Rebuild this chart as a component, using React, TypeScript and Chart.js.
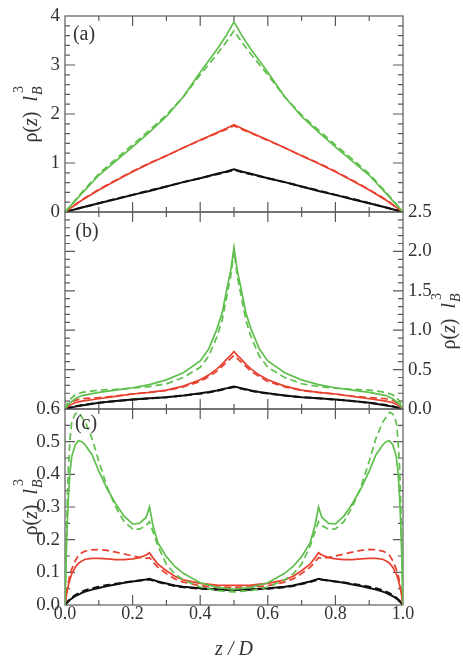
import React, { useEffect, useRef } from "react";
import { Chart, registerables } from "chart.js";

Chart.register(...registerables);

const W = 463;
const H = 657;
const SERIF = '"Liberation Serif", "DejaVu Serif", serif';
const TEXT = "#333333";
const FRAME = "#5a5a5a";
const GREEN = "#5fbf4c";
const RED = "#e8402e";
const BLACK = "#111111";

// ---------- panel (a) ----------
const Z_A = [0, 0.05, 0.1, 0.15, 0.2, 0.25, 0.3, 0.35, 0.4, 0.45, 0.475, 0.5, 0.525, 0.55, 0.6, 0.65, 0.7, 0.75, 0.8, 0.85, 0.9, 0.95, 1];
const A_GREEN = [0, 0.38, 0.75, 1.04, 1.33, 1.63, 1.95, 2.35, 2.85, 3.32, 3.58, 3.88, 3.58, 3.32, 2.85, 2.35, 1.95, 1.63, 1.33, 1.04, 0.75, 0.38, 0];
const A_GREEN_D = [0, 0.4, 0.78, 1.08, 1.37, 1.67, 1.98, 2.35, 2.8, 3.22, 3.45, 3.7, 3.45, 3.22, 2.8, 2.35, 1.98, 1.67, 1.37, 1.08, 0.78, 0.4, 0];
const A_RED = [0, 0.24, 0.45, 0.64, 0.82, 0.99, 1.15, 1.31, 1.47, 1.62, 1.7, 1.78, 1.7, 1.62, 1.47, 1.31, 1.15, 0.99, 0.82, 0.64, 0.45, 0.24, 0];
const A_RED_D = [0, 0.25, 0.46, 0.65, 0.83, 1.0, 1.15, 1.31, 1.46, 1.61, 1.68, 1.76, 1.68, 1.61, 1.46, 1.31, 1.15, 1.0, 0.83, 0.65, 0.46, 0.25, 0];
const A_BLACK = [0, 0.09, 0.18, 0.26, 0.35, 0.43, 0.52, 0.61, 0.69, 0.78, 0.82, 0.87, 0.82, 0.78, 0.69, 0.61, 0.52, 0.43, 0.35, 0.26, 0.18, 0.09, 0];
const A_BLACK_D = [0, 0.09, 0.18, 0.27, 0.35, 0.44, 0.52, 0.61, 0.69, 0.77, 0.81, 0.86, 0.81, 0.77, 0.69, 0.61, 0.52, 0.44, 0.35, 0.27, 0.18, 0.09, 0];

// ---------- panel (b) ----------
const Z_B = [0, 0.01, 0.03, 0.05, 0.1, 0.15, 0.2, 0.25, 0.3, 0.35, 0.4, 0.425, 0.45, 0.465, 0.48, 0.49, 0.5, 0.51, 0.52, 0.535, 0.55, 0.575, 0.6, 0.65, 0.7, 0.75, 0.8, 0.85, 0.9, 0.95, 0.97, 0.99, 1];
const B_GREEN = [0, 0.06, 0.13, 0.17, 0.21, 0.24, 0.27, 0.31, 0.37, 0.46, 0.61, 0.76, 1.02, 1.22, 1.55, 1.75, 2.05, 1.75, 1.55, 1.22, 1.02, 0.76, 0.61, 0.46, 0.37, 0.31, 0.27, 0.24, 0.21, 0.17, 0.13, 0.06, 0];
const B_GREEN_D = [0, 0.1, 0.18, 0.21, 0.24, 0.25, 0.265, 0.285, 0.32, 0.4, 0.53, 0.67, 0.92, 1.13, 1.46, 1.68, 2.0, 1.68, 1.46, 1.13, 0.92, 0.67, 0.53, 0.4, 0.32, 0.285, 0.265, 0.25, 0.24, 0.21, 0.18, 0.1, 0];
const B_RED = [0, 0.04, 0.08, 0.1, 0.13, 0.16, 0.19, 0.21, 0.24, 0.29, 0.37, 0.43, 0.51, 0.57, 0.64, 0.68, 0.73, 0.68, 0.64, 0.57, 0.51, 0.43, 0.37, 0.29, 0.24, 0.21, 0.19, 0.16, 0.13, 0.1, 0.08, 0.04, 0];
const B_RED_D = [0, 0.06, 0.11, 0.13, 0.145, 0.165, 0.19, 0.21, 0.235, 0.28, 0.35, 0.41, 0.48, 0.54, 0.6, 0.64, 0.68, 0.64, 0.6, 0.54, 0.48, 0.41, 0.35, 0.28, 0.235, 0.21, 0.19, 0.165, 0.145, 0.13, 0.11, 0.06, 0];
const B_BLACK = [0, 0.01, 0.03, 0.045, 0.08, 0.1, 0.12, 0.135, 0.15, 0.17, 0.2, 0.215, 0.235, 0.25, 0.265, 0.275, 0.285, 0.275, 0.265, 0.25, 0.235, 0.215, 0.2, 0.17, 0.15, 0.135, 0.12, 0.1, 0.08, 0.045, 0.03, 0.01, 0];
const B_BLACK_D = [0, 0.015, 0.035, 0.05, 0.08, 0.1, 0.12, 0.135, 0.15, 0.17, 0.195, 0.21, 0.23, 0.245, 0.26, 0.27, 0.28, 0.27, 0.26, 0.245, 0.23, 0.21, 0.195, 0.17, 0.15, 0.135, 0.12, 0.1, 0.08, 0.05, 0.035, 0.015, 0];

// ---------- panel (c) ----------
const Z_C = [0, 0.005, 0.01, 0.015, 0.02, 0.03, 0.04, 0.05, 0.06, 0.08, 0.1, 0.125, 0.15, 0.175, 0.2, 0.22, 0.24, 0.25, 0.26, 0.275, 0.3, 0.325, 0.35, 0.4, 0.45, 0.5,
  0.55, 0.6, 0.65, 0.675, 0.7, 0.725, 0.74, 0.75, 0.76, 0.78, 0.8, 0.825, 0.85, 0.875, 0.9, 0.92, 0.94, 0.95, 0.96, 0.97, 0.98, 0.985, 0.99, 0.995, 1];
const C_GREEN = [0, 0.2, 0.33, 0.41, 0.455, 0.49, 0.503, 0.5, 0.49, 0.46, 0.41, 0.355, 0.31, 0.272, 0.248, 0.25, 0.268, 0.3, 0.245, 0.19, 0.148, 0.118, 0.097, 0.068, 0.054, 0.048,
  0.054, 0.068, 0.097, 0.118, 0.148, 0.19, 0.245, 0.3, 0.268, 0.25, 0.248, 0.272, 0.31, 0.355, 0.41, 0.46, 0.49, 0.5, 0.503, 0.49, 0.455, 0.41, 0.33, 0.2, 0];
const C_GREEN_D = [0, 0.25, 0.42, 0.51, 0.56, 0.585, 0.59, 0.575, 0.56, 0.51, 0.44, 0.36, 0.3, 0.255, 0.233, 0.232, 0.243, 0.255, 0.225, 0.18, 0.125, 0.095, 0.077, 0.055, 0.044, 0.04,
  0.044, 0.055, 0.077, 0.095, 0.125, 0.18, 0.225, 0.255, 0.243, 0.232, 0.233, 0.255, 0.3, 0.36, 0.44, 0.51, 0.56, 0.575, 0.59, 0.585, 0.56, 0.51, 0.42, 0.25, 0];
const C_RED = [0, 0.035, 0.06, 0.08, 0.095, 0.115, 0.128, 0.135, 0.14, 0.143, 0.143, 0.141, 0.139, 0.139, 0.141, 0.145, 0.153, 0.16, 0.145, 0.125, 0.105, 0.088, 0.077, 0.066, 0.061, 0.06,
  0.061, 0.066, 0.077, 0.088, 0.105, 0.125, 0.145, 0.16, 0.153, 0.145, 0.141, 0.139, 0.139, 0.141, 0.143, 0.143, 0.14, 0.135, 0.128, 0.115, 0.095, 0.08, 0.06, 0.035, 0];
const C_RED_D = [0, 0.04, 0.07, 0.095, 0.11, 0.135, 0.152, 0.16, 0.165, 0.169, 0.17, 0.167, 0.162, 0.156, 0.15, 0.146, 0.143, 0.145, 0.132, 0.115, 0.096, 0.08, 0.07, 0.059, 0.055, 0.054,
  0.055, 0.059, 0.07, 0.08, 0.096, 0.115, 0.132, 0.145, 0.143, 0.146, 0.15, 0.156, 0.162, 0.167, 0.17, 0.169, 0.165, 0.16, 0.152, 0.135, 0.11, 0.095, 0.07, 0.04, 0];
const C_BLACK = [0, 0.006, 0.011, 0.016, 0.02, 0.027, 0.032, 0.037, 0.041, 0.047, 0.052, 0.058, 0.063, 0.068, 0.072, 0.075, 0.078, 0.08, 0.077, 0.072, 0.066, 0.06, 0.056, 0.051, 0.048, 0.047,
  0.048, 0.051, 0.056, 0.06, 0.066, 0.072, 0.077, 0.08, 0.078, 0.075, 0.072, 0.068, 0.063, 0.058, 0.052, 0.047, 0.041, 0.037, 0.032, 0.027, 0.02, 0.016, 0.011, 0.006, 0];
const C_BLACK_D = [0, 0.007, 0.013, 0.018, 0.023, 0.03, 0.036, 0.041, 0.045, 0.051, 0.056, 0.061, 0.065, 0.069, 0.072, 0.075, 0.077, 0.078, 0.075, 0.07, 0.064, 0.058, 0.054, 0.05, 0.047, 0.046,
  0.047, 0.05, 0.054, 0.058, 0.064, 0.07, 0.075, 0.078, 0.077, 0.075, 0.072, 0.069, 0.065, 0.061, 0.056, 0.051, 0.045, 0.041, 0.036, 0.03, 0.023, 0.018, 0.013, 0.007, 0];

type Curve = { ys: number[]; color: string; dashed: boolean };
type PanelSpec = {
  letter: string;
  letterX: number;
  letterY: number;
  zs: number[];
  curves: Curve[];
  top: number; // chart area top (px)
  bottom: number; // chart area bottom (px)
  yMax: number;
  yStep: number;
  yMinor: number;
  yDigits: number;
  ySide: "left" | "right";
  titleX: number;
  titleY: number;
  showX: boolean;
};

const curves = (g: number[], gd: number[], r: number[], rd: number[], k: number[], kd: number[]): Curve[] => [
  { ys: gd, color: GREEN, dashed: true },
  { ys: g, color: GREEN, dashed: false },
  { ys: rd, color: RED, dashed: true },
  { ys: r, color: RED, dashed: false },
  { ys: kd, color: BLACK, dashed: true },
  { ys: k, color: BLACK, dashed: false },
];

const PANELS: PanelSpec[] = [
  {
    letter: "(a)", letterX: 84, letterY: 35, zs: Z_A,
    curves: curves(A_GREEN, A_GREEN_D, A_RED, A_RED_D, A_BLACK, A_BLACK_D),
    top: 16, bottom: 212, yMax: 4, yStep: 1, yMinor: 0.2, yDigits: 0, ySide: "left",
    titleX: 37, titleY: 114, showX: false,
  },
  {
    letter: "(b)", letterX: 87, letterY: 232, zs: Z_B,
    curves: curves(B_GREEN, B_GREEN_D, B_RED, B_RED_D, B_BLACK, B_BLACK_D),
    top: 212, bottom: 409, yMax: 2.5, yStep: 0.5, yMinor: 0.1, yDigits: 1, ySide: "right",
    titleX: 455, titleY: 321, showX: false,
  },
  {
    letter: "(c)", letterX: 86, letterY: 424, zs: Z_C,
    curves: curves(C_GREEN, C_GREEN_D, C_RED, C_RED_D, C_BLACK, C_BLACK_D),
    top: 409, bottom: 605, yMax: 0.6, yStep: 0.1, yMinor: 0.05, yDigits: 1, ySide: "left",
    titleX: 37, titleY: 507, showX: true,
  },
];

const LEFT_W = 65;
const RIGHT_W = 60;

function drawDensityTitle(ctx: CanvasRenderingContext2D, bx: number, cy: number) {
  const main = `20px ${SERIF}`;
  const ital = `italic 20px ${SERIF}`;
  const smallI = `italic 14px ${SERIF}`;
  const small = `14px ${SERIF}`;
  const runs: [string, string][] = [["ρ(", main], ["z", ital], [")  ", main], ["l", ital]];
  ctx.save();
  ctx.translate(bx, cy);
  ctx.rotate(-Math.PI / 2);
  ctx.fillStyle = TEXT;
  ctx.textAlign = "left";
  ctx.textBaseline = "alphabetic";
  let total = 0;
  for (const [t, f] of runs) {
    ctx.font = f;
    total += ctx.measureText(t).width;
  }
  ctx.font = smallI;
  const wB = ctx.measureText("B").width;
  total += wB + 2;
  let x = -total / 2;
  for (const [t, f] of runs) {
    ctx.font = f;
    ctx.fillText(t, x, 0);
    x += ctx.measureText(t).width;
  }
  ctx.font = smallI;
  ctx.fillText("B", x + 1, 5);
  ctx.font = small;
  ctx.fillText("3", x + 3, -14);
  ctx.restore();
}

function decor(spec: PanelSpec) {
  return {
    id: "panelDecor",
    beforeDatasetsDraw(chart: any) {
      const { ctx, chartArea: a, scales } = chart;
      const xs = scales.x;
      const ys = scales.y;
      ctx.save();
      ctx.strokeStyle = FRAME;
      ctx.lineWidth = 1.2;
      ctx.strokeRect(a.left, a.top, a.right - a.left, a.bottom - a.top);
      ctx.beginPath();
      // z ticks: minor every 0.1, major every 0.2, pointing inward on top and bottom
      for (let i = 1; i < 10; i++) {
        const px = xs.getPixelForValue(i / 10);
        const len = i % 2 === 0 ? 10 : 5;
        ctx.moveTo(px, a.bottom);
        ctx.lineTo(px, a.bottom - len);
        ctx.moveTo(px, a.top);
        ctx.lineTo(px, a.top + len);
      }
      const n = Math.round(spec.yMax / spec.yMinor);
      const per = Math.round(spec.yStep / spec.yMinor);
      for (let i = 1; i < n; i++) {
        const py = ys.getPixelForValue(i * spec.yMinor);
        const len = i % per === 0 ? 10 : 5;
        ctx.moveTo(a.left, py);
        ctx.lineTo(a.left + len, py);
        ctx.moveTo(a.right, py);
        ctx.lineTo(a.right - len, py);
      }
      ctx.stroke();
      ctx.restore();
    },
    afterDraw(chart: any) {
      const { ctx } = chart;
      ctx.save();
      ctx.fillStyle = TEXT;
      ctx.font = `20px ${SERIF}`;
      ctx.textAlign = "center";
      ctx.textBaseline = "middle";
      ctx.fillText(spec.letter, spec.letterX, spec.letterY);
      if (spec.showX) {
        ctx.font = `italic 20px ${SERIF}`;
        ctx.textBaseline = "alphabetic";
        ctx.fillText("z / D", (chart.chartArea.left + chart.chartArea.right) / 2, 655);
      }
      ctx.restore();
      drawDensityTitle(ctx, spec.titleX, spec.titleY);
    },
  };
}

function Panel({ spec }: { spec: PanelSpec }) {
  const ref = useRef<HTMLCanvasElement>(null);
  useEffect(() => {
    const tickFont = { family: SERIF, size: 19, lineHeight: 1 };
    const chart = new Chart(ref.current as HTMLCanvasElement, {
      type: "line",
      data: {
        datasets: spec.curves.map((c) => ({
          data: spec.zs.map((z, i) => ({ x: z, y: c.ys[i] })),
          borderColor: c.color,
          borderWidth: c.color === BLACK ? 2 : 1.7,
          borderDash: c.dashed ? [7, 4] : [],
          pointRadius: 0,
          fill: false,
          tension: 0,
        })),
      },
      options: {
        responsive: false,
        animation: false,
        devicePixelRatio: 1,
        layout: {
          padding: {
            left: spec.ySide === "left" ? 0 : LEFT_W,
            right: spec.ySide === "left" ? RIGHT_W : 0,
            top: spec.top,
            bottom: 0,
          },
        },
        plugins: { legend: { display: false }, tooltip: { enabled: false } },
        scales: {
          x: {
            type: "linear",
            min: 0,
            max: 1,
            display: spec.showX,
            position: "bottom",
            grid: { display: false, drawTicks: false },
            border: { display: false },
            ticks: {
              stepSize: 0.2,
              padding: 0,
              color: TEXT,
              font: { family: SERIF, size: 18, lineHeight: 1 },
              maxRotation: 0,
              autoSkip: false,
              callback: (v: any) => Number(v).toFixed(1),
            },
            // the z axis band below each panel fills the rest of the canvas
            afterFit: (s: any) => {
              s.height = H - spec.bottom;
            },
          },
          y: {
            type: "linear",
            min: 0,
            max: spec.yMax,
            position: spec.ySide,
            grid: { display: false, drawTicks: false },
            border: { display: false },
            ticks: {
              stepSize: spec.yStep,
              padding: 5,
              color: TEXT,
              font: tickFont,
              autoSkip: false,
              callback: (v: any) => Number(v).toFixed(spec.yDigits),
            },
            afterFit: (s: any) => {
              s.width = spec.ySide === "left" ? LEFT_W : RIGHT_W;
            },
          },
        },
      },
      plugins: [decor(spec)],
    } as any);
    return () => chart.destroy();
  }, [spec]);
  return (
    <canvas
      ref={ref}
      width={W}
      height={H}
      style={{ position: "absolute", left: 0, top: 0, width: W, height: H }}
    />
  );
}

export default function App() {
  return (
    <div style={{ position: "absolute", left: 0, top: 0, width: W, height: H, background: "#ffffff", overflow: "hidden" }}>
      {PANELS.map((p) => (
        <Panel key={p.letter} spec={p} />
      ))}
    </div>
  );
}
